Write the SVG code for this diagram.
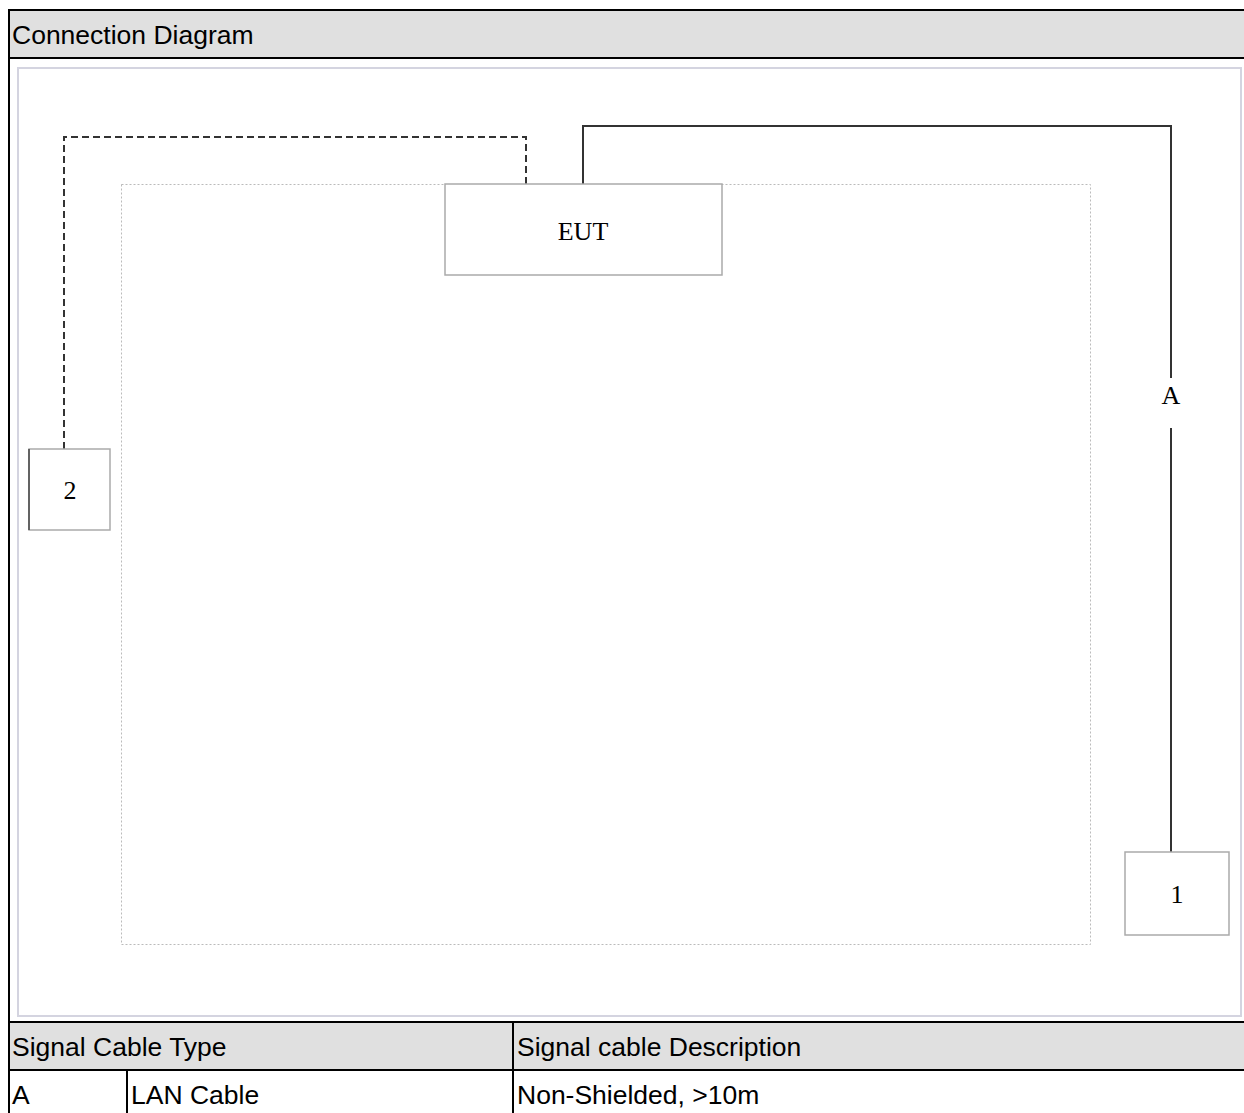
<svg xmlns="http://www.w3.org/2000/svg" width="1244" height="1113" viewBox="0 0 1244 1113">
<style>
.t{font-family:"Liberation Sans",Arial,sans-serif;font-size:26.5px;fill:#000}
.s{font-family:"Liberation Serif","Times New Roman",serif;font-size:26px;fill:#000;text-anchor:middle}
.rule{stroke:#000;stroke-width:2;fill:none}
.box{fill:#fff;stroke:#aaa;stroke-width:1.5}
.wire{fill:none;stroke:#333;stroke-width:2}
</style>
<rect width="1244" height="1113" fill="#fff"/>
<g id="table">
<rect x="9" y="10" width="1240" height="48" fill="#e0e0e0"/>
<rect x="9" y="1022" width="1240" height="48" fill="#e0e0e0"/>
<line class="rule" x1="8" y1="10" x2="1244" y2="10"/>
<line class="rule" x1="8" y1="58" x2="1244" y2="58"/>
<line class="rule" x1="8" y1="1022" x2="1244" y2="1022"/>
<line class="rule" x1="8" y1="1070" x2="1244" y2="1070"/>
<line class="rule" x1="9" y1="9" x2="9" y2="1113"/>
<line class="rule" x1="513" y1="1022" x2="513" y2="1113"/>
<line class="rule" x1="127" y1="1070" x2="127" y2="1113"/>
<text class="t" x="12" y="44">Connection Diagram</text>
<text class="t" x="12" y="1056">Signal Cable Type</text>
<text class="t" x="517" y="1056">Signal cable Description</text>
<text class="t" x="12" y="1104">A</text>
<text class="t" x="131" y="1104">LAN Cable</text>
<text class="t" x="517" y="1104">Non-Shielded, &gt;10m</text>
</g>
<rect x="18" y="68" width="1223" height="948" fill="#fff" stroke="#d4d4e0" stroke-width="2"/>
<rect id="area" x="121.5" y="184.5" width="969" height="760" fill="none" stroke="#bbb" stroke-width="1" stroke-dasharray="2,2"/>
<g id="connectors">
<polyline class="wire" points="526,184 526,137 64,137 64,449" stroke-dasharray="7,4"/>
<polyline class="wire" points="583,184 583,126 1171,126 1171,378"/>
<line class="wire" x1="1171" y1="428" x2="1171" y2="852"/>
<text class="s" x="1171" y="404">A</text>
</g>
<g id="eut">
<rect class="box" x="445" y="184" width="277" height="91"/>
<text class="s" x="583" y="240">EUT</text>
</g>
<g id="node2">
<rect class="box" x="29" y="449" width="81" height="81"/>
<line x1="29" y1="449" x2="29" y2="530" stroke="#444" stroke-width="1.5"/>
<text class="s" x="70" y="499">2</text>
</g>
<g id="node1">
<rect class="box" x="1125" y="852" width="104" height="83"/>
<text class="s" x="1177" y="903">1</text>
</g>
</svg>
